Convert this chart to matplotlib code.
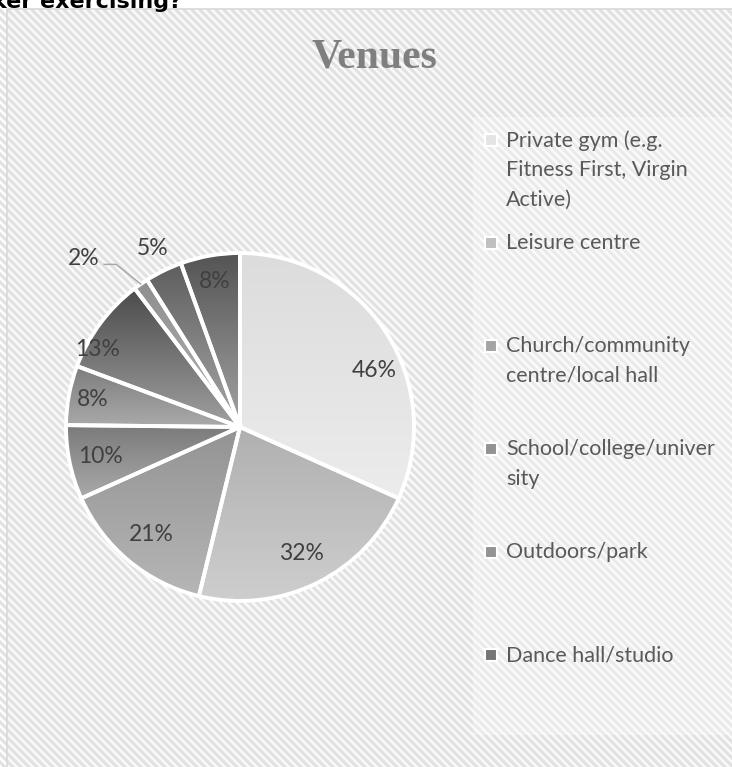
import numpy as np
import matplotlib.pyplot as plt
from matplotlib.patches import Rectangle
from matplotlib.collections import LineCollection
from matplotlib.colors import LinearSegmentedColormap

# data (multi-select question, so shares add up to more than 100)
venues = ["Private gym (e.g.\nFitness First, Virgin\nActive)", "Leisure centre",
          "Church/community\ncentre/local hall", "School/college/univer\nsity",
          "Outdoors/park", "Dance hall/studio", "Swimming pool", "Home", "Other"]
shares = [46, 32, 21, 10, 8, 13, 2, 5, 8]
n_legend = 6  # only the first six entries fit in the legend box

# (top, bottom) gradient colours per slice
grad_top = ['#dcdcdc', '#b0b0b0', '#939393', '#7a7a7a', '#7d7d7d', '#4b4b4b', '#8e8e8e', '#5e5e5e', '#545454']
grad_bot = ['#ececec', '#cecece', '#b6b6b6', '#aaaaaa', '#aaaaaa', '#a0a0a0', '#b6b6b6', '#a8a8a8', '#a4a4a4']

# label layout: radial distance (fraction of radius) and angle nudge in degrees
lab_dist = [0.84, 0.81, 0.80, 0.82, 0.86, 0.93, 1.32, 1.14, 0.85]
lab_nudge = [-10, 0, 0, 0, 0, 8, 8, 0, 0]

W, H = 732, 767


def Y(py):
    return H - py


fig = plt.figure(figsize=(W / 100, H / 100), dpi=100)
ax = fig.add_axes([0, 0, 1, 1])

# striped chart background + border
ax.add_patch(Rectangle((7, Y(780)), 760, 780 - 9, facecolor='#fafafa', linewidth=0, zorder=0))
step = 8
segs = []
for x0 in np.arange(7 - 800, W + 10, step):
    segs.append([(x0, Y(9)), (x0 + 780, Y(9) - 780)])
stripes = LineCollection(segs, colors='#e1e1e1', linewidths=2.2, zorder=0.2)
stripes.set_clip_path(Rectangle((7, Y(780)), 760, 780 - 9, transform=ax.transData))
ax.add_collection(stripes)
ax.add_patch(Rectangle((7, Y(780)), 760, 780 - 9, fill=False, edgecolor='#d9d9d9',
                       linewidth=1.2, zorder=0.5))
# lighter legend box
ax.add_patch(Rectangle((473, Y(735)), 300, 735 - 117, facecolor='white', alpha=0.3,
                       linewidth=0, zorder=0.6))

cx, cy, r = 240, Y(427), 174
wedges, _ = ax.pie(shares, center=(cx, cy), radius=r, startangle=90, counterclock=False,
                   frame=False,
                   wedgeprops=dict(facecolor='none', edgecolor='white', linewidth=2.8, zorder=3))

grad = np.linspace(0, 1, 256).reshape(-1, 1)
for w, c0, c1 in zip(wedges, grad_top, grad_bot):
    bb = w.get_path().get_extents()
    cmap = LinearSegmentedColormap.from_list('g', [c1, c0])
    im = ax.imshow(grad, cmap=cmap, origin='lower', aspect='auto', interpolation='bicubic',
                   extent=(bb.x0, bb.x1, bb.y0, bb.y1), zorder=2)
    im.set_clip_path(w)

# percentage labels
for i, w in enumerate(wedges):
    ang = np.deg2rad((w.theta1 + w.theta2) / 2 + lab_nudge[i])
    lx = cx + lab_dist[i] * r * np.cos(ang)
    ly = cy + lab_dist[i] * r * np.sin(ang)
    ax.text(lx, ly, f"{shares[i]}%", ha='center', va='center', fontsize=16.5,
            family='Lato', color='#404040', zorder=4)
    if lab_dist[i] > 1.25:
        mid = np.deg2rad((w.theta1 + w.theta2) / 2)
        ex, ey = cx + r * np.cos(mid), cy + r * np.sin(mid)
        ax.plot([lx + 20, lx + 32, ex], [ly - 6, ly - 6, ey], color='#a6a6a6', lw=1, zorder=4)

# legend
for i in range(n_legend):
    yc = 140 + 103 * i
    mid_col = LinearSegmentedColormap.from_list('g', [grad_bot[i], grad_top[i]])(0.5)
    ax.add_patch(Rectangle((485, Y(yc) - 6), 12, 12, facecolor=mid_col, edgecolor='white',
                           linewidth=1.5, zorder=4))
    ax.text(506, Y(yc - 10), venues[i], ha='left', va='top', fontsize=15.5, family='Lato',
            color='#595959', linespacing=1.6, zorder=4)

# title and the clipped question text above the chart
ax.text(374, Y(57), "Venues", ha='center', va='center', fontsize=30, fontweight='bold',
        family='Liberation Serif', color='#7f7f7f', zorder=4)
ax.text(182, Y(8), "aker exercising?", ha='right', va='baseline', fontsize=16,
        fontweight='bold', family='DejaVu Sans', color='black', zorder=4)

ax.set_xlim(0, W)
ax.set_ylim(0, H)
ax.set_aspect('equal')
ax.axis('off')

fig.savefig('out.png', dpi=100)
